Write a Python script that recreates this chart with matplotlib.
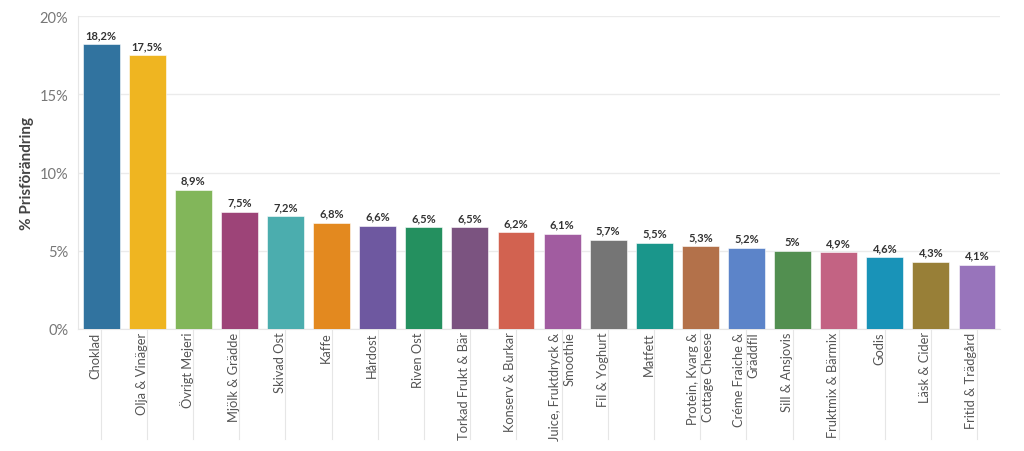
import numpy as np
import matplotlib.pyplot as plt
from matplotlib.transforms import blended_transform_factory

plt.rcParams['font.family'] = ['Lato', 'DejaVu Sans']

categories = ['Choklad', 'Olja & Vinäger', 'Övrigt Mejeri', 'Mjölk & Grädde', 'Skivad Ost',
              'Kaffe', 'Hårdost', 'Riven Ost', 'Torkad Frukt & Bär', 'Konserv & Burkar',
              'Juice, Fruktdryck &\nSmoothie', 'Fil & Yoghurt', 'Matfett',
              'Protein, Kvarg &\nCottage Cheese', 'Créme Fraiche &\nGräddfil', 'Sill & Ansjovis',
              'Fruktmix & Bärmix', 'Godis', 'Läsk & Cider', 'Fritid & Trädgård']
values = [18.2, 17.5, 8.9, 7.5, 7.2, 6.8, 6.6, 6.5, 6.5, 6.2,
          6.1, 5.7, 5.5, 5.3, 5.2, 5.0, 4.9, 4.6, 4.3, 4.1]
value_labels = ['18,2%', '17,5%', '8,9%', '7,5%', '7,2%', '6,8%', '6,6%', '6,5%', '6,5%', '6,2%',
                '6,1%', '5,7%', '5,5%', '5,3%', '5,2%', '5%', '4,9%', '4,6%', '4,3%', '4,1%']
colors = ['#31739F', '#EFB521', '#82B65A', '#9D4478', '#4BADAE', '#E3891F', '#6E58A0',
          '#24905F', '#7B5380', '#D26250', '#A15CA0', '#757575', '#1A968B', '#B3714A',
          '#5C84C9', '#528F50', '#C36383', '#1993B8', '#987F37', '#9874BB']
yticks = [0, 5, 10, 15, 20]

fig = plt.figure(figsize=(10.24, 4.52), dpi=100)
ax = fig.add_axes([0.0762, 0.27, 0.9004, 0.6917])

x = np.arange(len(values))
ax.bar(x, values, width=0.8, color=colors, edgecolor='white', linewidth=0.4, zorder=3)

for i, (v, t) in enumerate(zip(values, value_labels)):
    ax.annotate(t, (i, v), xytext=(0, 3), textcoords='offset points', ha='center', va='bottom',
                fontsize=8, fontweight='bold', color='#333333')

ax.set_xlim(-0.5, 19.5)
ax.set_ylim(0, 20)
ax.set_yticks(yticks)
ax.set_yticklabels([f'{t}%' for t in yticks], fontsize=10.5, color='#777777')
ax.tick_params(axis='y', length=0, pad=7)
ax.set_xticks([])
ax.grid(axis='y', color='#ebebeb', linewidth=1, zorder=0)
for s in ['top', 'right']:
    ax.spines[s].set_visible(False)
ax.spines['left'].set_color('#e6e6e6')
ax.spines['bottom'].set_color('#e6e6e6')

ax.set_ylabel('% Prisförändring', fontsize=11, fontweight='bold', color='#444444', labelpad=4)

trans = blended_transform_factory(ax.transData, ax.transAxes)
for i, c in enumerate(categories):
    ax.plot([i, i], [0, -0.352], transform=trans, color='#e6e6e6', linewidth=0.8, clip_on=False)
    if '\n' in c:
        ax.text(i, -0.008, c, transform=trans, rotation=90, ha='center', va='top',
                multialignment='right', fontsize=9.3, color='#555555', linespacing=1.25)
    else:
        ax.text(i + 0.01, -0.008, c, transform=trans, rotation=90, ha='right', va='top',
                fontsize=9.3, color='#555555')

plt.savefig('out.png', dpi=100)
